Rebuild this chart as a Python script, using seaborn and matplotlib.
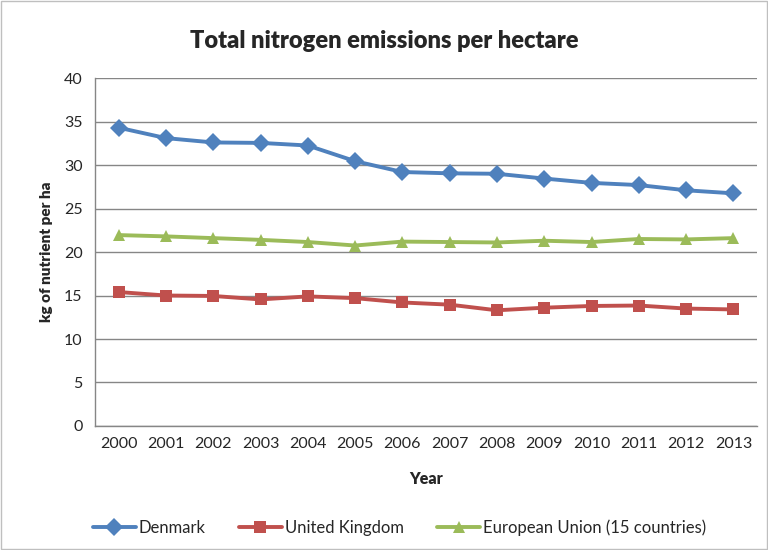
import numpy as np
import pandas as pd
import matplotlib
matplotlib.use("Agg")
import matplotlib.pyplot as plt
import seaborn as sns
from matplotlib.patches import Rectangle

years = list(range(2000, 2014))
denmark = [34.3, 33.1, 32.6, 32.55, 32.25, 30.45, 29.2, 29.05, 29.0, 28.45, 27.95, 27.7, 27.1, 26.75]
united_kingdom = [15.4, 15.0, 14.95, 14.55, 14.9, 14.7, 14.2, 13.95, 13.3, 13.6, 13.8, 13.85, 13.5, 13.4]
eu15 = [21.95, 21.8, 21.6, 21.4, 21.15, 20.75, 21.2, 21.15, 21.1, 21.3, 21.15, 21.5, 21.45, 21.6]

series_names = ["Denmark", "United Kingdom", "European Union (15 countries)"]
colors = ["#4F81BD", "#C0504D", "#9BBB59"]
markers = ["D", "s", "^"]

df = pd.DataFrame({
    "pos": list(range(len(years))) * 3,
    "value": denmark + united_kingdom + eu15,
    "series": [n for n in series_names for _ in years],
})

sns.set_style("white")
plt.rcParams["font.family"] = ["Lato", "DejaVu Sans"]

fig = plt.figure(figsize=(7.68, 5.50), dpi=100)
ax = fig.add_axes([0.1237, 0.2255, 0.862, 0.6325])

# chart area border
fig.patches.append(Rectangle((0.001, 0.001), 0.998, 0.998, transform=fig.transFigure,
                             fill=False, edgecolor="#BFBFBF", lw=1))

sns.lineplot(data=df, x="pos", y="value", hue="series", style="series",
             palette=dict(zip(series_names, colors)),
             markers=dict(zip(series_names, markers)), dashes=False,
             linewidth=2.8, markersize=9, markeredgewidth=0, ax=ax, legend=False)

ax.set_xlim(-0.5, len(years) - 0.5)
ax.set_ylim(0, 40)
ax.set_yticks(np.arange(0, 41, 5))
ax.set_xticks(range(len(years)))
ax.set_xticklabels([str(y) for y in years])
ax.set_xticks(np.arange(-0.5, len(years), 1), minor=True)
ax.tick_params(axis="x", which="major", length=0, labelsize=11.5, pad=8)
ax.tick_params(axis="x", which="minor", length=5, color="#868686", direction="out")
ax.tick_params(axis="y", length=5, color="#868686", direction="out", labelsize=11.5, pad=4)
ax.yaxis.grid(True, color="#868686", lw=1)
ax.set_axisbelow(True)
for s in ["top", "right"]:
    ax.spines[s].set_visible(False)
for s in ["left", "bottom"]:
    ax.spines[s].set_color("#868686")
    ax.spines[s].set_linewidth(1)

ax.set_xlabel("Year", fontsize=11.5, fontweight="heavy", labelpad=14)
ax.set_ylabel("kg of nutrient per ha", fontsize=11, fontweight="heavy", labelpad=8)
fig.text(0.5, 0.925, "Total nitrogen emissions per hectare", ha="center", va="center",
         fontsize=17, fontweight="heavy")

handles = [plt.Line2D([], [], color=c, marker=m, lw=2.8, markersize=9, markeredgewidth=0)
           for c, m in zip(colors, markers)]
fig.legend(handles, series_names, loc="center", bbox_to_anchor=(0.52, 0.04), ncol=3,
           frameon=False, fontsize=12, handlelength=2.6, columnspacing=2.0, handletextpad=0.15)

plt.savefig("out.png", dpi=100)
plt.close()
